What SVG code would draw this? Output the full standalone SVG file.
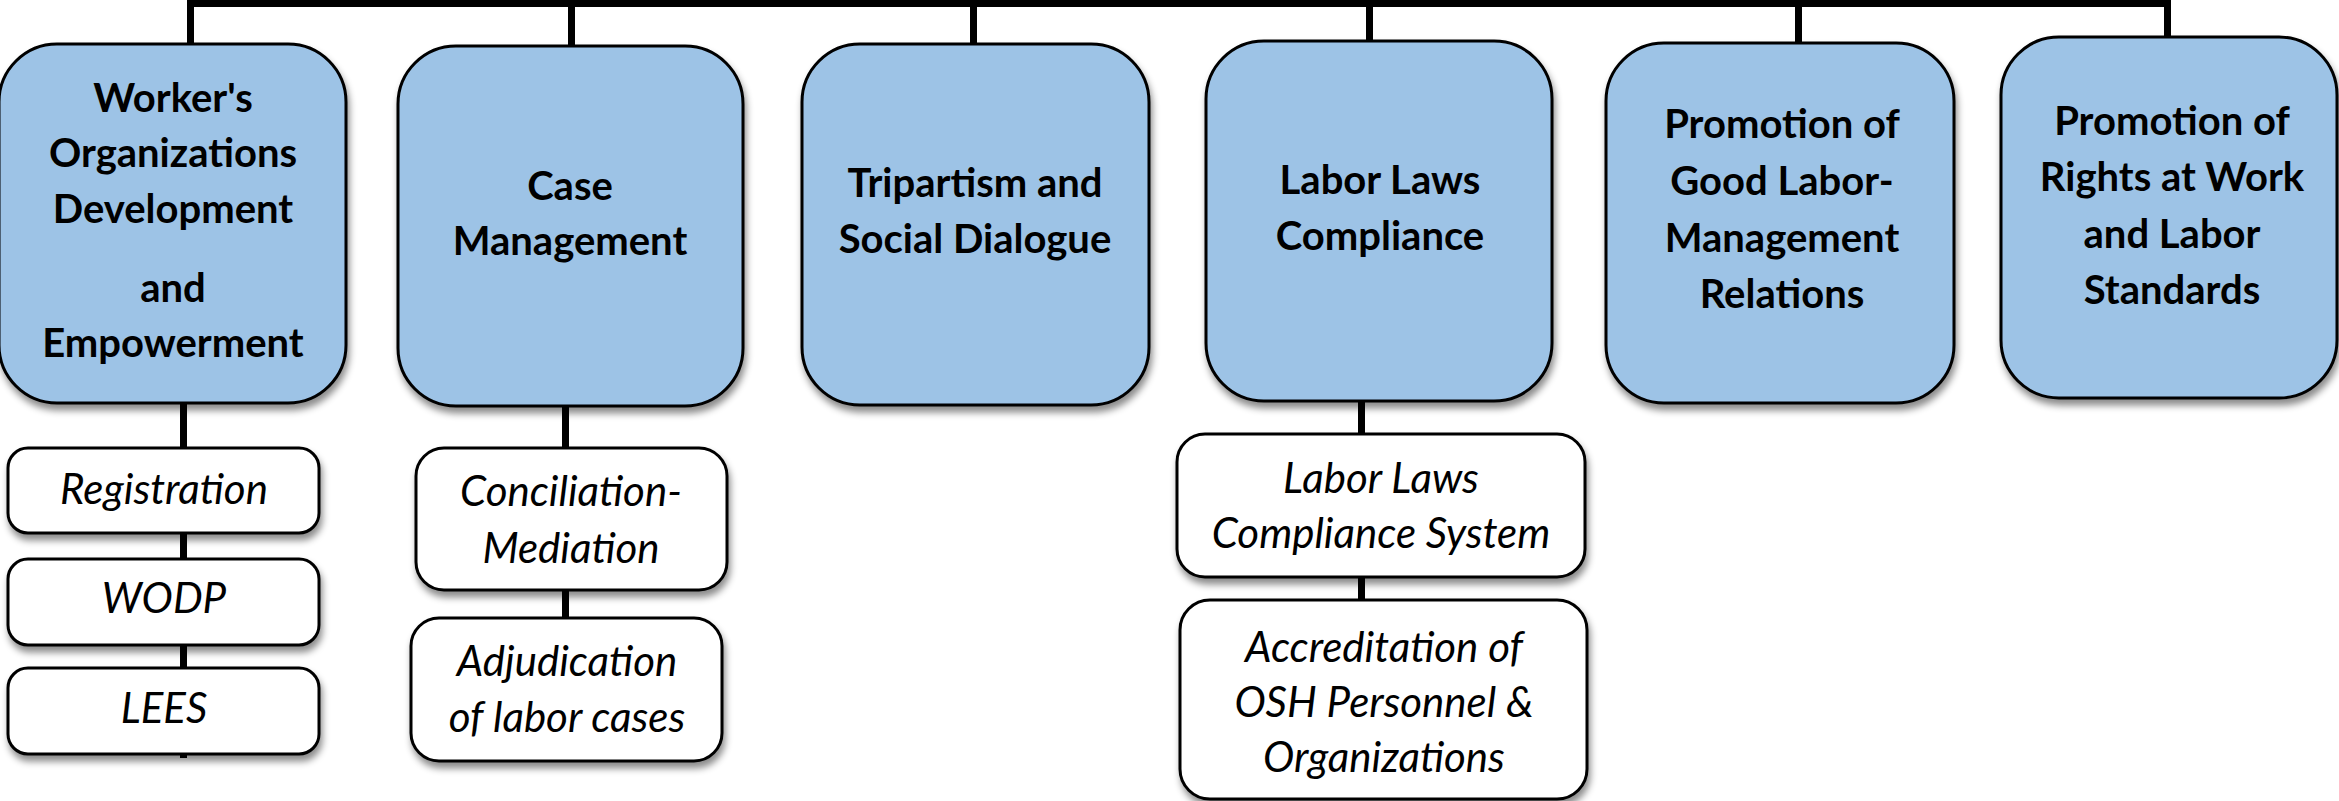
<svg xmlns="http://www.w3.org/2000/svg" width="2339" height="801" viewBox="0 0 2339 801">
<defs>
<filter id="sh" x="-10%" y="-10%" width="120%" height="130%">
<feDropShadow dx="2" dy="6" stdDeviation="3.5" flood-color="#000" flood-opacity="0.45"/>
</filter>
<style>
.main{fill:#9DC3E6;stroke:#000;stroke-width:3;filter:url(#sh)}
.sub{fill:#fff;stroke:#000;stroke-width:3;filter:url(#sh)}
.mt{font-family:Lato,"Liberation Sans",sans-serif;font-weight:bold;font-size:40px;fill:#000;text-anchor:middle}
.st{font-family:Lato,"Liberation Sans",sans-serif;font-style:italic;font-size:42px;fill:#000;text-anchor:middle}
.ln{fill:#000}
</style>
</defs>
<rect width="2339" height="801" fill="#fff"/>
<g id="connectors">
<rect class="ln" x="187" y="0" width="1984" height="7"/>
<rect class="ln" x="187" y="0" width="7" height="46"/>
<rect class="ln" x="568" y="0" width="7" height="47"/>
<rect class="ln" x="970" y="0" width="7" height="46"/>
<rect class="ln" x="1366" y="0" width="7" height="42"/>
<rect class="ln" x="1795" y="0" width="7" height="44"/>
<rect class="ln" x="2164" y="0" width="7" height="38"/>
<rect class="ln" x="180" y="400" width="7" height="358"/>
<rect class="ln" x="562" y="400" width="7" height="220"/>
<rect class="ln" x="1358" y="398" width="7" height="204"/>
</g>
<g id="n1">
<rect class="main" x="-1" y="44" width="347" height="359" rx="58"/>
<text class="mt" x="173" y="112">Worker's</text>
<text class="mt" x="173" y="167">Organizations</text>
<text class="mt" x="173" y="223">Development</text>
<text class="mt" x="173" y="302">and</text>
<text class="mt" x="173" y="357">Empowerment</text>
</g>
<g id="n2">
<rect class="main" x="398" y="46" width="345" height="360" rx="58"/>
<text class="mt" x="570" y="200">Case</text>
<text class="mt" x="570" y="255">Management</text>
</g>
<g id="n3">
<rect class="main" x="802" y="44" width="347" height="361" rx="58"/>
<text class="mt" x="975" y="197">Tripartism and</text>
<text class="mt" x="975" y="253">Social Dialogue</text>
</g>
<g id="n4">
<rect class="main" x="1206" y="41" width="346" height="360" rx="58"/>
<text class="mt" x="1380" y="194">Labor Laws</text>
<text class="mt" x="1380" y="250">Compliance</text>
</g>
<g id="n5">
<rect class="main" x="1606" y="43" width="348" height="360" rx="58"/>
<text class="mt" x="1782" y="138">Promotion of</text>
<text class="mt" x="1782" y="195">Good Labor-</text>
<text class="mt" x="1782" y="252">Management</text>
<text class="mt" x="1782" y="308">Relations</text>
</g>
<g id="n6">
<rect class="main" x="2001" y="37" width="336" height="361" rx="58"/>
<text class="mt" x="2172" y="135">Promotion of</text>
<text class="mt" x="2172" y="191">Rights at Work</text>
<text class="mt" x="2172" y="248">and Labor</text>
<text class="mt" x="2172" y="304">Standards</text>
</g>
<g id="s1">
<rect class="sub" x="8" y="448" width="311" height="85" rx="20"/>
<text class="st" x="164" y="504">Registration</text>
</g>
<g id="s2">
<rect class="sub" x="8" y="559" width="311" height="86" rx="20"/>
<text class="st" x="164" y="613">WODP</text>
</g>
<g id="s3">
<rect class="sub" x="8" y="668" width="311" height="86" rx="20"/>
<text class="st" x="164" y="723">LEES</text>
</g>
<g id="s4">
<rect class="sub" x="416" y="448" width="311" height="142" rx="28"/>
<text class="st" x="571" y="506">Conciliation-</text>
<text class="st" x="571" y="563">Mediation</text>
</g>
<g id="s5">
<rect class="sub" x="411" y="618" width="311" height="143" rx="28"/>
<text class="st" x="567" y="676">Adjudication</text>
<text class="st" x="567" y="732">of labor cases</text>
</g>
<g id="s6">
<rect class="sub" x="1177" y="434" width="408" height="143" rx="28"/>
<text class="st" x="1381" y="493">Labor Laws</text>
<text class="st" x="1381" y="548">Compliance System</text>
</g>
<g id="s7">
<rect class="sub" x="1180" y="600" width="407" height="199" rx="30"/>
<text class="st" x="1384" y="662">Accreditation of</text>
<text class="st" x="1384" y="717">OSH Personnel &amp;</text>
<text class="st" x="1384" y="772">Organizations</text>
</g>
</svg>
